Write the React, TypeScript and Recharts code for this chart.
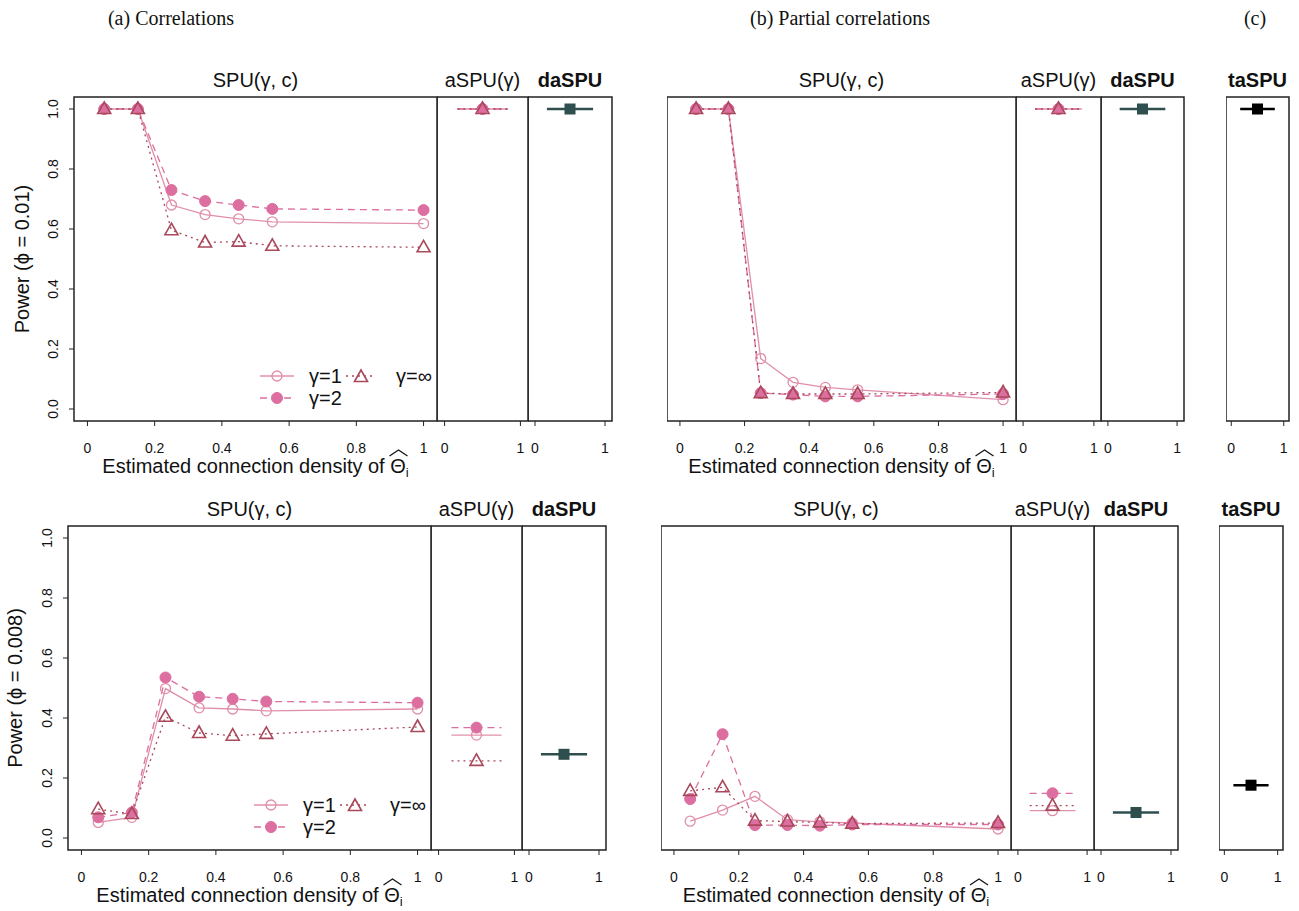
import React from "react";
import { Legend, Line, LineChart, ReferenceArea, XAxis, YAxis } from "recharts";

// estimated connection densities of Θi (x positions of the SPU(γ, c) points)
const densities = [0.05, 0.15, 0.25, 0.35, 0.45, 0.55, 1];

// (a) correlations, phi = 0.01
const corrTopG1 = [1, 1, 0.68, 0.648, 0.634, 0.624, 0.618];
const corrTopG2 = [1, 1, 0.73, 0.693, 0.68, 0.667, 0.663];
const corrTopGinf = [1, 1, 0.596, 0.555, 0.558, 0.544, 0.539];

// (b) partial correlations, phi = 0.01
const partTopG1 = [1, 1, 0.168, 0.089, 0.072, 0.064, 0.031];
const partTopG2 = [1, 1, 0.053, 0.048, 0.042, 0.042, 0.05];
const partTopGinf = [1, 1, 0.053, 0.05, 0.05, 0.05, 0.055];

// (a) correlations, phi = 0.008
const corrBotG1 = [0.052, 0.069, 0.498, 0.434, 0.43, 0.424, 0.43];
const corrBotG2 = [0.069, 0.085, 0.535, 0.471, 0.464, 0.455, 0.451];
const corrBotGinf = [0.096, 0.08, 0.404, 0.35, 0.341, 0.347, 0.37];

// (b) partial correlations, phi = 0.008
const partBotG1 = [0.056, 0.093, 0.139, 0.061, 0.054, 0.05, 0.03];
const partBotG2 = [0.13, 0.346, 0.043, 0.043, 0.041, 0.045, 0.045];
const partBotGinf = [0.157, 0.169, 0.058, 0.055, 0.052, 0.048, 0.05];

// aSPU(γ) for γ = 1, 2, ∞
const aspuCorrTop = [1, 1, 1];
const aspuPartTop = [1, 1, 1];
const aspuCorrBot = [0.343, 0.368, 0.257];
const aspuPartBot = [0.091, 0.149, 0.108];

// daSPU: corr top, partial top, corr bottom, partial bottom
const daspuValues = [1, 1, 0.279, 0.085];
// taSPU: top, bottom
const taspuValues = [1, 0.176];

const xTicks = [0, 0.2, 0.4, 0.6, 0.8, 1];
const yTicks = [0, 0.2, 0.4, 0.6, 0.8, 1];

const SANS = "'Liberation Sans', Arial, Helvetica, sans-serif";
const SERIF = "'Liberation Serif', 'DejaVu Serif', serif";
const INK = "#222";
const C1 = "#e08fab";
const C2 = "#dc6ea0";
const C3 = "#a9485b";
const DARK = "#2f4f4f";

// summary panels: horizontal segment around the centre
const SUMMARY_X = [0.17, 0.5, 0.83];
const PAD = 3;

type MarkerKind = "open" | "filled" | "triangle" | "square";

const gammaStyles = [
  { key: "g1", label: "γ=1", color: C1, dash: undefined as string | undefined, marker: "open" as MarkerKind },
  { key: "g2", label: "γ=2", color: C2, dash: "7 5", marker: "filled" as MarkerKind },
  { key: "ginf", label: "γ=∞", color: C3, dash: "2 4", marker: "triangle" as MarkerKind },
];

function drawMarker(kind: MarkerKind, cx: number, cy: number, color: string, key: string | number) {
  if (cx == null || cy == null) return <g key={key} />;
  switch (kind) {
    case "open":
      return <circle key={key} cx={cx} cy={cy} r={5} fill="none" stroke={color} strokeWidth={1.3} />;
    case "filled":
      return <circle key={key} cx={cx} cy={cy} r={5.5} fill={color} stroke={color} strokeWidth={1} />;
    case "triangle":
      return (
        <polygon
          key={key}
          points={`${cx},${cy - 7} ${cx - 6.5},${cy + 4.5} ${cx + 6.5},${cy + 4.5}`}
          fill="none"
          stroke={color}
          strokeWidth={1.6}
        />
      );
    default:
      return <rect key={key} x={cx - 5.5} y={cy - 5.5} width={11} height={11} fill={color} />;
  }
}

const fmtX = (v: number) => (v === 0 || v === 1 ? String(v) : v.toFixed(1));

function RotatedTick(props: any) {
  const { x, y, payload } = props;
  const bx = x - 11;
  return (
    <text
      x={bx}
      y={y}
      transform={`rotate(-90 ${bx} ${y})`}
      textAnchor="middle"
      fontSize={14}
      fill="#111"
      fontFamily={SANS}
    >
      {Number(payload.value).toFixed(1)}
    </text>
  );
}

function GammaLegend() {
  return (
    <svg width={170} height={46} style={{ overflow: "visible" }}>
      <g fontFamily={SANS} fontSize={20} fill="#111">
        <line x1={0} y1={11} x2={34} y2={11} stroke={C1} strokeWidth={1.3} />
        {drawMarker("open", 17, 11, C1, "l1")}
        <text x={49} y={18}>γ=1</text>
        <line x1={86} y1={11} x2={116} y2={11} stroke={C3} strokeWidth={1.5} strokeDasharray="2 4" />
        {drawMarker("triangle", 101, 12, C3, "l3")}
        <text x={136} y={18}>γ=∞</text>
        <line x1={0} y1={33} x2={34} y2={33} stroke={C2} strokeWidth={1.3} strokeDasharray="7 5" />
        {drawMarker("filled", 17, 33, C2, "l2")}
        <text x={49} y={40}>γ=2</text>
      </g>
    </svg>
  );
}

type Box = { left: number; top: number; width: number; height: number };

function SpuPanel({
  box,
  g1,
  g2,
  ginf,
  showY,
  legend,
}: {
  box: Box;
  g1: number[];
  g2: number[];
  ginf: number[];
  showY?: boolean;
  legend?: boolean;
}) {
  const data = densities.map((d, i) => ({ x: d, g1: g1[i], g2: g2[i], ginf: ginf[i] }));
  const yw = showY ? 30 : 0;
  return (
    <div style={{ position: "absolute", left: box.left - yw, top: box.top - PAD }}>
      <LineChart
        width={yw + box.width + PAD}
        height={PAD + box.height + 40}
        data={data}
        margin={{ top: PAD, right: PAD, bottom: 0, left: 0 }}
      >
        <XAxis
          type="number"
          dataKey="x"
          domain={[-0.04, 1.04]}
          ticks={xTicks}
          tickFormatter={fmtX}
          allowDataOverflow
          axisLine={false}
          tickLine={{ stroke: INK }}
          tickSize={5}
          tickMargin={17}
          height={40}
          tick={{ fontSize: 14, fill: "#111", fontFamily: SANS }}
        />
        <YAxis
          type="number"
          domain={[-0.04, 1.04]}
          ticks={yTicks}
          allowDataOverflow
          hide={!showY}
          width={yw}
          axisLine={false}
          tickLine={{ stroke: INK }}
          tickSize={5}
          tickMargin={0}
          tick={(p: any) => <RotatedTick {...p} />}
        />
        <ReferenceArea x1={-0.04} x2={1.04} y1={-0.04} y2={1.04} fill="none" fillOpacity={0} stroke={INK} strokeWidth={1.5} />
        {gammaStyles.map((s) => (
          <Line
            key={s.key}
            dataKey={s.key}
            stroke={s.color}
            strokeWidth={1.3}
            strokeDasharray={s.dash}
            type="linear"
            isAnimationActive={false}
            activeDot={false}
            dot={(p: any) => drawMarker(s.marker, p.cx, p.cy, s.color, `${s.key}-${p.index}`)}
          />
        ))}
        {legend && (
          <Legend
            layout="horizontal"
            verticalAlign="middle"
            align="center"
            content={() => <GammaLegend />}
            wrapperStyle={{ position: "absolute", left: yw + 186, top: PAD + 268, width: 170, height: 46 }}
          />
        )}
      </LineChart>
    </div>
  );
}

type SummarySeries = { value: number; color: string; dash?: string; marker: MarkerKind; width: number };

function SummaryPanel({ box, series }: { box: Box; series: SummarySeries[] }) {
  return (
    <div style={{ position: "absolute", left: box.left, top: box.top - PAD }}>
      <LineChart
        width={box.width + PAD}
        height={PAD + box.height + 40}
        margin={{ top: PAD, right: PAD, bottom: 0, left: 0 }}
      >
        <XAxis
          type="number"
          dataKey="x"
          domain={[-0.1, 1.1]}
          ticks={[0, 1]}
          allowDataOverflow
          axisLine={false}
          tickLine={{ stroke: INK }}
          tickSize={5}
          tickMargin={17}
          height={40}
          tick={{ fontSize: 14, fill: "#111", fontFamily: SANS }}
        />
        <YAxis type="number" domain={[-0.04, 1.04]} allowDataOverflow hide />
        <ReferenceArea x1={-0.1} x2={1.1} y1={-0.04} y2={1.04} fill="none" fillOpacity={0} stroke={INK} strokeWidth={1.5} />
        {series.map((s, k) => (
          <Line
            key={k}
            data={SUMMARY_X.map((x) => ({ x, v: s.value }))}
            dataKey="v"
            stroke={s.color}
            strokeWidth={s.width}
            strokeDasharray={s.dash}
            isAnimationActive={false}
            activeDot={false}
            dot={(p: any) =>
              p.index === 1 ? drawMarker(s.marker, p.cx, p.cy, s.color, `m${k}`) : <g key={`e${k}-${p.index}`} />
            }
          />
        ))}
      </LineChart>
    </div>
  );
}

const aspuSeries = (vals: number[]): SummarySeries[] =>
  gammaStyles.map((s, i) => ({ value: vals[i], color: s.color, dash: s.dash, marker: s.marker, width: 1.3 }));

const dSeries = (v: number): SummarySeries[] => [{ value: v, color: DARK, marker: "square", width: 2.5 }];
const tSeries = (v: number): SummarySeries[] => [{ value: v, color: "#000", marker: "square", width: 2.5 }];

// panel boxes (page pixels)
const TOP_Y = 97;
const BOT_Y = 526;
const BOX_H = 324;
const b = (left: number, top: number, width: number): Box => ({ left, top, width, height: BOX_H });

const top = {
  spuA: b(74, TOP_Y, 363),
  aspuA: b(437, TOP_Y, 91),
  daspuA: b(528, TOP_Y, 84),
  spuB: b(667, TOP_Y, 349),
  aspuB: b(1016, TOP_Y, 85),
  daspuB: b(1101, TOP_Y, 83),
  taspu: b(1226, TOP_Y, 63),
};
const bot = {
  spuA: b(68, BOT_Y, 363),
  aspuA: b(431, BOT_Y, 91),
  daspuA: b(522, BOT_Y, 84),
  spuB: b(661, BOT_Y, 350),
  aspuB: b(1011, BOT_Y, 83),
  daspuB: b(1094, BOT_Y, 84),
  taspu: b(1219, BOT_Y, 64),
};

function PanelTitle({ box, text, bold }: { box: Box; text: string; bold?: boolean }) {
  return (
    <text
      x={box.left + box.width / 2}
      y={box.top - 10}
      textAnchor="middle"
      fontSize={20}
      fontWeight={bold ? "bold" : "normal"}
      fontFamily={SANS}
      fill="#111"
    >
      {text}
    </text>
  );
}

function DensityTitle({ box }: { box: Box }) {
  const cx = box.left + box.width / 2;
  const base = box.top + box.height + 52;
  const hx = cx + 143;
  return (
    <g fontFamily={SANS} fill="#111">
      <text x={cx} y={base} textAnchor="middle" fontSize={20}>
        Estimated connection density of Θ
        <tspan fontSize={13} dy={4}>i</tspan>
      </text>
      <path
        d={`M ${hx - 9} ${base - 17} L ${hx} ${base - 23} L ${hx + 9} ${base - 17}`}
        fill="none"
        stroke="#111"
        strokeWidth={1.2}
      />
    </g>
  );
}

function PowerTitle({ x, cy, text }: { x: number; cy: number; text: string }) {
  return (
    <text
      x={x}
      y={cy}
      transform={`rotate(-90 ${x} ${cy})`}
      textAnchor="middle"
      fontSize={20}
      fontFamily={SANS}
      fill="#111"
    >
      {text}
    </text>
  );
}

export default function App() {
  return (
    <div
      style={{
        position: "absolute",
        left: 0,
        top: 0,
        width: 1299,
        height: 911,
        background: "#fff",
        overflow: "hidden",
        fontFamily: SANS,
      }}
    >
      <SpuPanel box={top.spuA} g1={corrTopG1} g2={corrTopG2} ginf={corrTopGinf} showY legend />
      <SummaryPanel box={top.aspuA} series={aspuSeries(aspuCorrTop)} />
      <SummaryPanel box={top.daspuA} series={dSeries(daspuValues[0])} />
      <SpuPanel box={top.spuB} g1={partTopG1} g2={partTopG2} ginf={partTopGinf} />
      <SummaryPanel box={top.aspuB} series={aspuSeries(aspuPartTop)} />
      <SummaryPanel box={top.daspuB} series={dSeries(daspuValues[1])} />
      <SummaryPanel box={top.taspu} series={tSeries(taspuValues[0])} />

      <SpuPanel box={bot.spuA} g1={corrBotG1} g2={corrBotG2} ginf={corrBotGinf} showY legend />
      <SummaryPanel box={bot.aspuA} series={aspuSeries(aspuCorrBot)} />
      <SummaryPanel box={bot.daspuA} series={dSeries(daspuValues[2])} />
      <SpuPanel box={bot.spuB} g1={partBotG1} g2={partBotG2} ginf={partBotGinf} />
      <SummaryPanel box={bot.aspuB} series={aspuSeries(aspuPartBot)} />
      <SummaryPanel box={bot.daspuB} series={dSeries(daspuValues[3])} />
      <SummaryPanel box={bot.taspu} series={tSeries(taspuValues[1])} />

      <svg
        width={1299}
        height={911}
        style={{ position: "absolute", left: 0, top: 0, pointerEvents: "none" }}
      >
        <g fontFamily={SERIF} fontSize={20} fill="#111" textAnchor="middle">
          <text x={171} y={25}>(a) Correlations</text>
          <text x={840} y={25}>(b) Partial correlations</text>
          <text x={1255} y={25}>(c)</text>
        </g>

        {[top, bot].map((row, i) => (
          <g key={i}>
            <PanelTitle box={row.spuA} text="SPU(γ, c)" />
            <PanelTitle box={row.aspuA} text="aSPU(γ)" />
            <PanelTitle box={row.daspuA} text="daSPU" bold />
            <PanelTitle box={row.spuB} text="SPU(γ, c)" />
            <PanelTitle box={row.aspuB} text="aSPU(γ)" />
            <PanelTitle box={row.daspuB} text="daSPU" bold />
            <PanelTitle box={row.taspu} text="taSPU" bold />
            <DensityTitle box={row.spuA} />
            <DensityTitle box={row.spuB} />
          </g>
        ))}

        <PowerTitle x={29} cy={top.spuA.top + BOX_H / 2} text="Power (ϕ = 0.01)" />
        <PowerTitle x={22} cy={bot.spuA.top + BOX_H / 2} text="Power (ϕ = 0.008)" />
      </svg>
    </div>
  );
}
